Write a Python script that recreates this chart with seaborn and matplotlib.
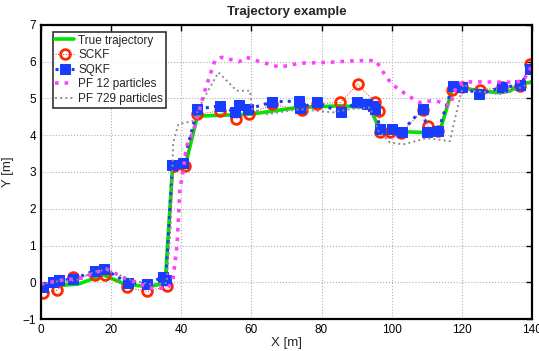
import matplotlib
matplotlib.use("Agg")
import matplotlib.pyplot as plt
import seaborn as sns
import pandas as pd

# True trajectory
true_x = [0, 10.6, 17.8, 24, 30.6, 35.4, 37.5, 41, 44.6, 59.6, 72.9, 85.3, 93.8, 96.7,
          110, 113.8, 117.6, 122.3, 130, 133.7, 136.6, 140]
true_y = [-0.12, -0.05, 0.2, -0.05, -0.12, -0.03, 3.11, 3.11, 4.52, 4.57, 4.75, 4.8, 4.75, 4.12,
          4.07, 4.12, 5.35, 5.25, 5.16, 5.2, 5.39, 5.45]

# SCKF estimate
sckf_x = [0.7, 4.5, 9.1, 15.4, 18.2, 24.6, 30.3, 35.8, 37.9, 41, 44.6, 51, 55.6, 59.4, 66,
          74.3, 78.6, 85.4, 90.3, 95.2, 96.3, 96.7, 99.6, 102.7, 108.8, 110.3, 113.3, 117.3,
          120, 125.1, 131.4, 136.6, 139.5]
sckf_y = [-0.28, -0.22, 0.14, 0.2, 0.2, -0.14, -0.25, -0.11, 3.16, 3.16, 4.57, 4.66, 4.45,
          4.57, 4.84, 4.68, 4.86, 4.89, 5.39, 4.89, 4.66, 4.1, 4.1, 4.07, 4.68, 4.25, 4.12,
          5.23, 5.3, 5.23, 5.31, 5.35, 5.95]

# SQKF estimate
sqkf_x = [0.5, 3.5, 5.2, 9.2, 15.4, 18, 24.7, 30.3, 34.8, 35.6, 37.5, 40.6, 44.6, 51, 55.3,
          56.6, 59.1, 66, 73.7, 73.9, 78.6, 85.5, 90.2, 93.1, 94.8, 95.2, 96.8, 100, 102.9,
          108.8, 110.2, 113.3, 117.4, 120, 125, 131.4, 136.6, 139.5]
sqkf_y = [-0.12, 0.02, 0.06, 0.08, 0.32, 0.36, -0.01, -0.05, 0.15, 0.06, 3.2, 3.25, 4.71, 4.8,
          4.63, 4.82, 4.71, 4.91, 4.93, 4.75, 4.89, 4.62, 4.91, 4.84, 4.8, 4.71, 4.16, 4.18,
          4.1, 4.72, 4.1, 4.12, 5.35, 5.3, 5.12, 5.3, 5.36, 5.8]

# PF 12 particles
pf12_x = [0, 5.9, 11.6, 14.9, 18.7, 25, 31.6, 36.2, 37.6, 38.8, 39.6, 40.6, 41.5, 43.4, 44.4,
          47, 49.6, 51.5, 56.5, 58.6, 62.4, 68.1, 73.9, 81.5, 90, 95.5, 97.6, 100, 104.7,
          108, 112.3, 116.6, 118.5, 120.9, 127, 134.7, 137.5, 140]
pf12_y = [-0.05, 0.06, 0.11, 0.25, 0.36, 0.06, -0.16, -0.16, 0.06, 1.0, 2.5, 3.07, 3.7, 4.1,
          4.43, 5.3, 6.03, 6.12, 6.0, 6.12, 6.0, 5.85, 5.96, 5.98, 6.03, 6.03, 5.71, 5.39,
          5.07, 4.89, 4.95, 4.8, 5.35, 5.45, 5.45, 5.44, 5.48, 5.9]

# PF 729 particles
pf729_x = [0, 5, 10, 15, 19, 25, 31, 35.8, 37, 37.7, 39.2, 43.4, 46.3, 50.6, 55.8, 59.6, 60.1,
           64.4, 73.9, 83.3, 88.1, 93.8, 96.2, 99.5, 103.3, 110, 116.6, 118, 120.4, 123.3,
           130.9, 135.6, 140]
pf729_y = [-0.05, 0.03, 0.05, 0.28, 0.35, 0.08, -0.05, -0.02, 1.5, 3.8, 4.3, 4.39, 4.98, 5.71,
           5.21, 5.21, 4.72, 4.57, 4.71, 4.62, 4.71, 4.75, 4.12, 3.8, 3.75, 3.92, 3.84, 4.43,
           5.39, 5.21, 5.12, 5.25, 5.44]

sns.set_style("white")
plt.rcParams['font.family'] = ['Liberation Sans', 'DejaVu Sans']

fig, ax = plt.subplots(figsize=(5.39, 3.51), dpi=100)
fig.subplots_adjust(left=0.076, right=0.987, bottom=0.091, top=0.929)

def df(x, y):
    return pd.DataFrame({'x': x, 'y': y})

sns.lineplot(data=df(true_x, true_y), x='x', y='y', sort=False, estimator=None, ax=ax,
             color='#00e400', linewidth=2.6, label='True trajectory')
sns.lineplot(data=df(sckf_x, sckf_y), x='x', y='y', sort=False, estimator=None, ax=ax,
             color='#ff2a00', linewidth=0.7, linestyle=':', marker='o', markersize=7,
             markerfacecolor='none', markeredgecolor='#ff2a00', markeredgewidth=2,
             label='SCKF')
sns.lineplot(data=df(sqkf_x, sqkf_y), x='x', y='y', sort=False, estimator=None, ax=ax,
             color='#1a3cff', linewidth=2.2, linestyle=':', marker='s', markersize=7,
             markerfacecolor='#1a3cff', markeredgecolor='#1a3cff', label='SQKF')
sns.lineplot(data=df(pf12_x, pf12_y), x='x', y='y', sort=False, estimator=None, ax=ax,
             color='#ff40ff', linewidth=2.6, linestyle=':', label='PF 12 particles')
sns.lineplot(data=df(pf729_x, pf729_y), x='x', y='y', sort=False, estimator=None, ax=ax,
             color='#8c8c8c', linewidth=1.4, linestyle=':', label='PF 729 particles')

ax.set_xlim(0, 140)
ax.set_ylim(-1, 7)
ax.set_xticks(range(0, 141, 20))
ax.set_yticks(range(-1, 8))
ax.grid(True, linestyle=':', color='#b0b0b0', linewidth=0.8)
ax.tick_params(direction='in', top=True, right=True, length=4, width=1, labelsize=8.5,
               colors='black')
for s in ax.spines.values():
    s.set_linewidth(1.6)
    s.set_color('black')

ax.set_xlabel('X [m]', fontsize=9.5, labelpad=1)
ax.set_ylabel('Y [m]', fontsize=9.5, labelpad=6)
ax.set_title('Trajectory example', fontsize=9.5, fontweight='bold', pad=7)

leg = ax.legend(loc='upper left', bbox_to_anchor=(0.024, 0.976), borderaxespad=0,
                numpoints=1, fontsize=8.5, frameon=True, fancybox=False,
                handlelength=1.6, handletextpad=0.35, labelspacing=0.22, borderpad=0.22)
leg.get_frame().set_edgecolor('black')
leg.get_frame().set_linewidth(1.2)

plt.savefig('out.png', dpi=100)
plt.close()
